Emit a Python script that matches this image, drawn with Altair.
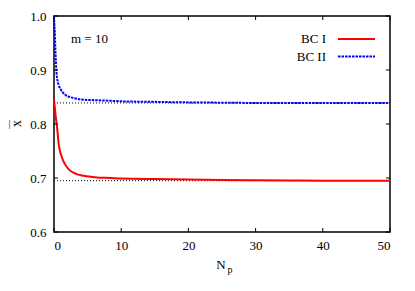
import altair as alt
import pandas as pd

# ---- data ----
n_bc1 = [0, 0.25, 0.47, 0.72, 1.07, 1.56, 2.2, 3.2, 4.43, 6.4, 8.4, 10, 12, 15, 20, 25, 30, 35, 40, 45, 50]
x_bc1 = [0.845, 0.815, 0.792, 0.761, 0.742, 0.727, 0.716, 0.708, 0.704, 0.701, 0.700, 0.699, 0.6985,
         0.698, 0.697, 0.6962, 0.6957, 0.6953, 0.695, 0.695, 0.695]
n_bc2 = [0, 0.05, 0.12, 0.22, 0.37, 0.57, 0.97, 1.7, 2.95, 4.4, 6.4, 8.4, 10, 15, 20, 25, 30, 40, 50]
x_bc2 = [1.0, 0.985, 0.970, 0.933, 0.896, 0.878, 0.865, 0.854, 0.848, 0.845, 0.844, 0.843, 0.842,
         0.841, 0.840, 0.8395, 0.839, 0.839, 0.839]
asymptotes = [0.695, 0.839]
x_ticks = [0, 10, 20, 30, 40, 50]
y_ticks = [0.6, 0.7, 0.8, 0.9, 1.0]
series_names = ["BC I", "BC II"]
series_colors = ["#ff0000", "#0000ff"]

W, H = 336, 216
FONT = "Liberation Serif"

df1 = pd.DataFrame({"N": n_bc1, "v": x_bc1})
df2 = pd.DataFrame({"N": n_bc2, "v": x_bc2})
dfa = pd.DataFrame({"N0": [0] * len(asymptotes), "N1": [50] * len(asymptotes), "v": asymptotes})
dfxt = pd.DataFrame({"N": x_ticks})
dfyt = pd.DataFrame({"v": y_ticks})

xs = alt.Scale(domain=[0, 50], nice=False)
ys = alt.Scale(domain=[0.6, 1.0], nice=False)
xax = alt.Axis(values=x_ticks, format="d", title=None, labelPadding=7)
yax = alt.Axis(values=y_ticks, format=".1f", title=None, labelPadding=8)

X = alt.X("N:Q", scale=xs, axis=xax)
Y = alt.Y("v:Q", scale=ys, axis=yax)

asym = alt.Chart(dfa).mark_rule(color="black", strokeWidth=1, strokeDash=[1, 2]).encode(
    x=alt.X("N0:Q", scale=xs, axis=xax), x2="N1:Q", y=Y)

line1 = alt.Chart(df1).mark_line(color=series_colors[0], strokeWidth=2, interpolate="monotone").encode(x=X, y=Y)
line2 = alt.Chart(df2).mark_line(color=series_colors[1], strokeWidth=2, strokeDash=[2.5, 1],
                                 interpolate="monotone").encode(x=X, y=Y)

# inward ticks on all four sides (gnuplot style)
tb = alt.Chart(dfxt).mark_rule(color="black", strokeWidth=1).encode(x=X, y=alt.value(H), y2=alt.value(H - 4))
tt = alt.Chart(dfxt).mark_rule(color="black", strokeWidth=1).encode(x=X, y=alt.value(0), y2=alt.value(4))
tl = alt.Chart(dfyt).mark_rule(color="black", strokeWidth=1).encode(y=Y, x=alt.value(0), x2=alt.value(4))
tr = alt.Chart(dfyt).mark_rule(color="black", strokeWidth=1).encode(y=Y, x=alt.value(W), x2=alt.value(W - 4))

def txt(t, x, y, size=13, align="left", angle=0, baseline="alphabetic"):
    return alt.Chart(pd.DataFrame({"t": [t]})).mark_text(
        font=FONT, fontSize=size, align=align, baseline=baseline, angle=angle, color="black"
    ).encode(text="t:N", x=alt.value(x), y=alt.value(y))

m_label = txt("m = 10", 17, 27)
leg_t1 = txt(series_names[0], 272, 27, align="right")
leg_t2 = txt(series_names[1], 272, 44.5, align="right")
leg_l1 = alt.Chart(pd.DataFrame({"s": [series_names[0]]})).mark_rule(
    color=series_colors[0], strokeWidth=2).encode(x=alt.value(284), x2=alt.value(321), y=alt.value(23))
leg_l2 = alt.Chart(pd.DataFrame({"s": [series_names[1]]})).mark_rule(
    color=series_colors[1], strokeWidth=2, strokeDash=[2.5, 1]).encode(x=alt.value(284), x2=alt.value(321), y=alt.value(40.5))

x_title_n = txt("N", 167, 253, align="center")
x_title_p = txt("p", 176, 257, size=10, align="center")
# y title: x with an overbar, rotated (the bar is drawn as a vertical bar glyph)
y_title = txt("x", -37.5, 107.5, size=14, align="center", angle=270, baseline="middle")
y_bar = txt("|", -44.5, 107.5, size=10, align="center", baseline="middle")

chart = alt.layer(
    asym, line1, line2, tb, tt, tl, tr,
    m_label, leg_t1, leg_t2, leg_l1, leg_l2, x_title_n, x_title_p, y_title, y_bar
).properties(
    width=W, height=H,
    autosize=alt.AutoSizeParams(type="none"),
    padding={"left": 46, "top": 8, "right": 17, "bottom": 51},
).configure_view(
    stroke="black", strokeWidth=1.5
).configure_axis(
    domain=False, ticks=False, grid=False,
    labelFont=FONT, labelFontSize=13, labelColor="black",
)

chart.save("out.html", embed_options={"renderer": "svg", "actions": False})
